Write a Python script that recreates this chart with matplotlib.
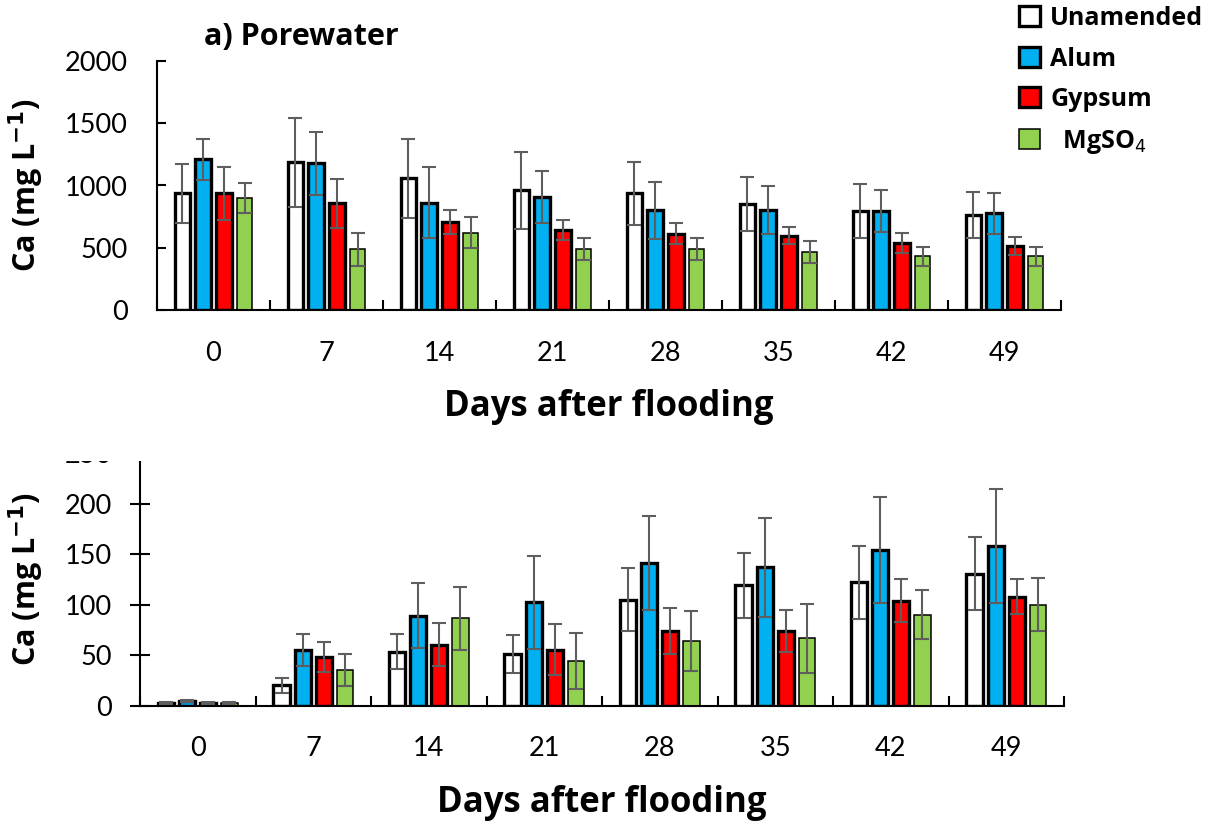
import matplotlib
matplotlib.use("Agg")
import matplotlib.pyplot as plt
import numpy as np
from matplotlib.patches import Rectangle
from matplotlib.font_manager import FontProperties

# ---------------- data ----------------
days = ["0", "7", "14", "21", "28", "35", "42", "49"]
series = ["Unamended", "Alum", "Gypsum", "MgSO4"]
legend_labels = ["Unamended", "Alum", "Gypsum", "  MgSO$_4$"]

# a) Porewater Ca (mg/L)
pw_unamended = [937, 1185, 1057, 961, 937, 851, 797, 763]
pw_alum      = [1210, 1177, 861, 907, 800, 800, 795, 776]
pw_gypsum    = [937, 856, 706, 642, 613, 597, 538, 511]
pw_mgso4     = [897, 487, 620, 492, 490, 463, 431, 431]
pw_unamended_err = [235, 355, 315, 307, 255, 220, 215, 188]
pw_alum_err      = [165, 250, 285, 207, 228, 193, 170, 163]
pw_gypsum_err    = [215, 200, 95, 80, 82, 68, 77, 72]
pw_mgso4_err     = [120, 133, 125, 88, 90, 88, 77, 75]

# b) second panel Ca (mg/L)
b_unamended = [3, 20, 53.5, 51, 105, 119, 122, 130.5]
b_alum      = [4.5, 55, 89, 102.5, 141, 137, 154, 158]
b_gypsum    = [2.5, 48.5, 60.5, 55.5, 74, 74, 104, 108]
b_mgso4     = [2.5, 35, 86.5, 44, 64, 66.5, 90, 100]
b_unamended_err = [1, 7, 17.5, 19, 31.5, 32.5, 36, 36]
b_alum_err      = [1, 15.5, 32, 46, 46.5, 49, 52.5, 56.5]
b_gypsum_err    = [0.8, 15, 21, 25, 23, 21, 21.5, 17.5]
b_mgso4_err     = [0.8, 16, 31, 27.5, 30, 34.5, 24.5, 26]

pw_vals = [pw_unamended, pw_alum, pw_gypsum, pw_mgso4]
pw_errs = [pw_unamended_err, pw_alum_err, pw_gypsum_err, pw_mgso4_err]
b_vals = [b_unamended, b_alum, b_gypsum, b_mgso4]
b_errs = [b_unamended_err, b_alum_err, b_gypsum_err, b_mgso4_err]

colors = ["#FFFFFF", "#00B0F0", "#FF0000", "#92D050"]
edge_lw = [2.4, 2.4, 2.4, 1.1]
err_color = "#5E5E5E"

FONT = "Lato"
BFONT = "Open Sans"
W, H = 1214, 824
fig = plt.figure(figsize=(W / 100, H / 100), dpi=100)


def frac_rect(left, top, right, bottom):
    return [left / W, 1 - bottom / H, (right - left) / W, (bottom - top) / H]


ax1 = fig.add_axes(frac_rect(157, 61, 1061, 310))
ax2 = fig.add_axes(frac_rect(140, 453, 1064, 705.7))

pitch = 0.183
bw = 0.14
x = np.arange(len(days))


def draw(ax, vals, errs, ylim, yticks, ydir, ylen, ypad):
    conts = []
    for i in range(4):
        xi = x + (i - 1.5) * pitch
        c = ax.bar(xi, vals[i], width=bw, color=colors[i], edgecolor="black",
                   linewidth=edge_lw[i], zorder=2)
        ax.errorbar(xi, vals[i], yerr=errs[i], fmt="none", ecolor=err_color,
                    elinewidth=1.5, capsize=5, capthick=1.5, zorder=3)
        conts.append(c)
    ax.set_xlim(-0.5, len(days) - 0.5)
    ax.set_ylim(*ylim)
    ax.set_yticks(yticks)
    ax.set_yticklabels([str(v) for v in yticks], fontfamily=FONT, fontsize=19.5)
    ax.set_xticks(np.arange(len(days) + 1) - 0.5)
    ax.set_xticklabels([])
    ax.set_xticks(x, minor=True)
    ax.set_xticklabels(days, minor=True, fontfamily=FONT, fontsize=19.5)
    ax.tick_params(axis="x", which="major", direction="in", length=7, width=1.5)
    ax.tick_params(axis="x", which="minor", length=0, pad=22)
    ax.tick_params(axis="y", direction=ydir, length=ylen, width=1.5, pad=ypad)
    for s in ["top", "right"]:
        ax.spines[s].set_visible(False)
    for s in ["left", "bottom"]:
        ax.spines[s].set_linewidth(1.5)
    ax.set_xlabel("Days after flooding", fontfamily=BFONT, fontweight="bold",
                  fontsize=25, labelpad=17)
    ax.set_ylabel(r"Ca (mg L$^{\mathbf{-1}}$)", fontfamily=BFONT, fontweight="bold",
                  fontsize=22)
    return conts


conts = draw(ax1, pw_vals, pw_errs, (0, 2000), [0, 500, 1000, 1500, 2000], "in", 6.5, 21)
draw(ax2, b_vals, b_errs, (0, 250), [0, 50, 100, 150, 200, 250], "inout", 14, 13)

ax1.yaxis.set_label_coords((46 - 157) / 904, 0.5)
ax2.yaxis.set_label_coords((46 - 140) / 924, 0.5)

fig.text(204 / W, 1 - 37 / H, "a) Porewater", fontfamily=BFONT, fontweight="bold",
         fontsize=22, ha="left", va="center")

fig.legend(conts, legend_labels, loc="upper left",
           bbox_to_anchor=(1019 / W, 1 - 6 / H), bbox_transform=fig.transFigure,
           frameon=False, borderpad=0, borderaxespad=0, handlelength=0.85,
           handleheight=0.85, handletextpad=0.4, labelspacing=0.62,
           prop=FontProperties(family=BFONT, weight="bold", size=18))

# cropped top edge of the lower panel (as in the reference image)
fig.patches.append(Rectangle((0, 1 - 461 / H), 1, 29 / H, transform=fig.transFigure,
                             facecolor="white", edgecolor="none", zorder=10))

fig.savefig("out.png", dpi=100)
